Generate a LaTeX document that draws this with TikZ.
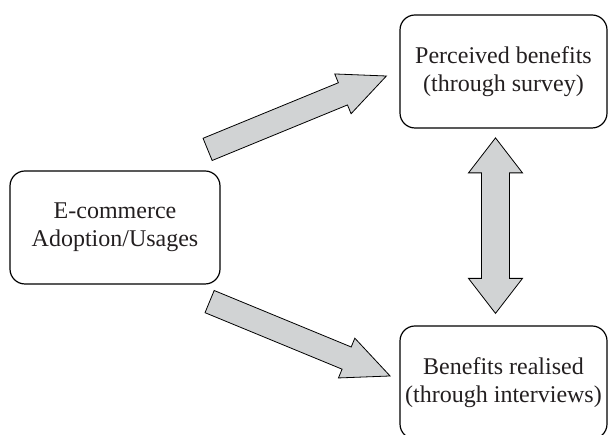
\documentclass[tikz,border=0pt]{standalone}
\usepackage{fontspec}
\setmainfont{Liberation Serif}
\usepackage{tikz}
\usetikzlibrary{calc,positioning}
\definecolor{ArrowGray}{RGB}{209,211,212}
\definecolor{TextDark}{RGB}{35,31,32}

% block arrows, drawn from one named point to another
\newcommand{\blockarrow}[2]{%
  \path[arrow box] let \p1=($(#2)-(#1)$), \n1={atan2(\y1,\x1)}, \n2={veclen(\x1,\y1)} in
    [shift={(#1)}, rotate=\n1]
    (0,-12) -- (\n2-47,-12) -- (\n2-47,-21.5) -- (\n2,0) -- (\n2-47,21.5) -- (\n2-47,12) -- (0,12) -- cycle;}
\newcommand{\dblarrow}[2]{%
  \path[arrow box] let \p1=($(#2)-(#1)$), \n1={atan2(\y1,\x1)}, \n2={veclen(\x1,\y1)} in
    [shift={(#1)}, rotate=\n1]
    (0,0) -- (35,-27) -- (35,-14) -- (\n2-35,-14) -- (\n2-35,-27) -- (\n2,0)
    -- (\n2-35,27) -- (\n2-35,14) -- (35,14) -- (35,27) -- cycle;}

\begin{document}
\begin{tikzpicture}[x=1pt, y=1pt,
    box/.style={draw=black, line width=1.2pt, rounded corners=15pt, minimum width=210pt, minimum height=113pt, inner sep=2pt, align=center, text=TextDark, font=\fontsize{24}{28}\selectfont},
    arrow box/.style={draw=black, line width=0.8pt, fill=ArrowGray}
]
\clip (0,0) rectangle (608,435);
\node[box] (adopt) at (115,207.5) {E-commerce\\Adoption/Usages};
\node[box, minimum width=207pt] (perc) at (503.5,363.5) {Perceived benefits\\(through survey)};
\node[box, minimum width=207pt] (real) at (503.5,52.5) {Benefits realised\\(through interviews)};

\coordinate (up tail) at ($(adopt.north east)+(-13,21)$);
\coordinate (up tip) at ($(perc.west)+(-13,-4.5)$);
\coordinate (down tail) at ($(adopt.south east)+(-11,-17)$);
\coordinate (down tip) at ($(real.west)+(-9.3,6.5)$);
\coordinate (perc end) at ($(perc.south)+(-8,-9.3)$);
\coordinate (real end) at ($(real.north)+(-8,12)$);

\blockarrow{up tail}{up tip}
\blockarrow{down tail}{down tip}
\dblarrow{real end}{perc end}
\end{tikzpicture}
\end{document}
